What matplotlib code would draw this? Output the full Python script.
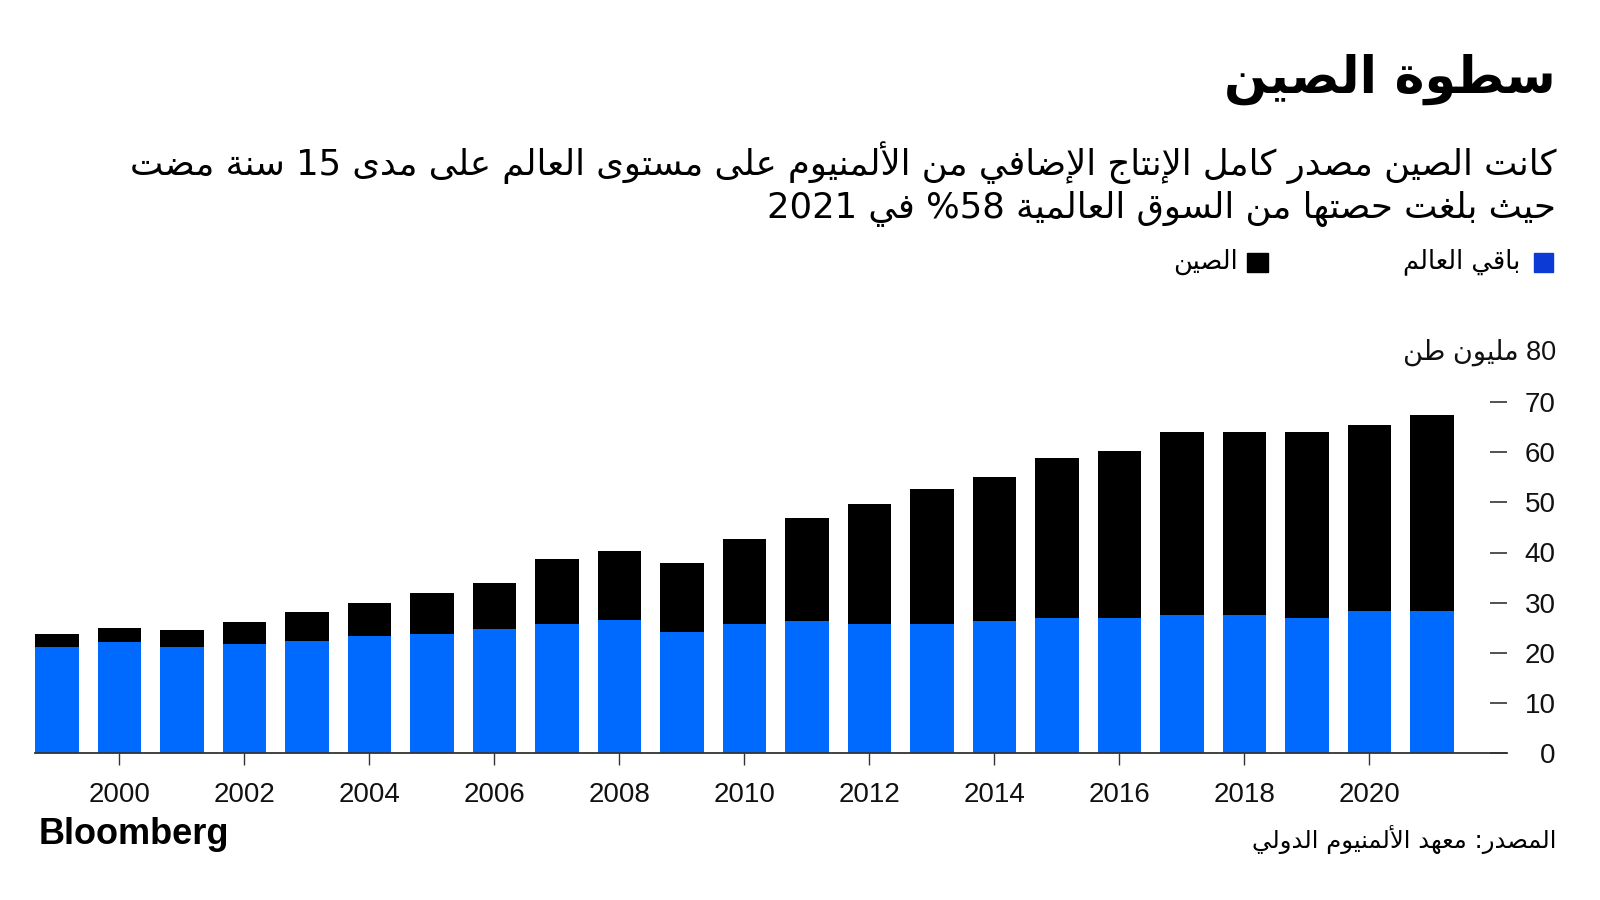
import re
import unicodedata

import matplotlib
matplotlib.use("Agg")
import matplotlib.pyplot as plt
from matplotlib.patches import Rectangle
from matplotlib.transforms import blended_transform_factory

# --- data ---
years = list(range(1999, 2022))
totals = [23.7, 24.9, 24.6, 26.1, 28.2, 30.0, 32.0, 33.9, 38.7, 40.3, 37.9, 42.6,
          46.8, 49.6, 52.6, 55.1, 58.8, 60.2, 64.0, 64.0, 64.0, 65.4, 67.5]
rest_of_world = [21.2, 22.1, 21.2, 21.8, 22.4, 23.4, 23.7, 24.7, 25.7, 26.6, 24.1, 25.7,
                 26.4, 25.7, 25.7, 26.4, 26.9, 26.9, 27.6, 27.6, 26.9, 28.4, 28.4]
china = [round(t - r, 1) for t, r in zip(totals, rest_of_world)]

x_ticks = list(range(2000, 2021, 2))
y_ticks = [0, 10, 20, 30, 40, 50, 60, 70]

title = "سطوة الصين"
subtitle_1 = "كانت الصين مصدر كامل الإنتاج الإضافي من الألمنيوم على مستوى العالم على مدى 15 سنة مضت"
subtitle_2 = "حيث بلغت حصتها من السوق العالمية 58% في 2021"
label_row = "باقي العالم"
label_china = "الصين"
unit_label = "80 مليون طن"
source = "المصدر: معهد الألمنيوم الدولي"

BLUE = "#006AFF"
LEGEND_BLUE = "#0B3BD4"


# --- minimal arabic shaping + visual reordering (matplotlib has no bidi) ---
def _build_forms():
    forms, ligs = {}, {}
    for cp in list(range(0xFE70, 0xFF00)) + list(range(0xFB50, 0xFE00)):
        d = unicodedata.decomposition(chr(cp))
        if not d.startswith("<"):
            continue
        tag, *codes = d.split()
        tag = tag.strip("<>")
        if tag not in ("isolated", "final", "initial", "medial"):
            continue
        chars = "".join(chr(int(c, 16)) for c in codes)
        if len(chars) == 1:
            forms.setdefault(chars, {}).setdefault(tag, chr(cp))
        elif len(chars) == 2 and 0xFEF5 <= cp <= 0xFEFC:
            ligs.setdefault(chars, {})[tag] = chr(cp)
    return forms, ligs


FORMS, LIGS = _build_forms()


def _joins_next(c):
    return c in FORMS and "initial" in FORMS[c]


def _joins_prev(c):
    return c in FORMS and "final" in FORMS[c]


def shape(text):
    out = []
    i, n = 0, len(text)
    while i < n:
        c = text[i]
        if c not in FORMS:
            out.append(c)
            i += 1
            continue
        prev_j = i > 0 and _joins_next(text[i - 1]) and _joins_prev(c)
        if i + 1 < n and (c + text[i + 1]) in LIGS:
            lig = LIGS[c + text[i + 1]]
            out.append(lig["final"] if prev_j else lig["isolated"])
            i += 2
            continue
        next_j = i + 1 < n and _joins_next(c) and _joins_prev(text[i + 1])
        f = FORMS[c]
        if prev_j and next_j:
            out.append(f.get("medial", c))
        elif prev_j:
            out.append(f.get("final", c))
        elif next_j:
            out.append(f.get("initial", c))
        else:
            out.append(f.get("isolated", c))
        i += 1
    rev = "".join(out)[::-1]
    # keep digit runs left-to-right
    return re.sub(r"[0-9]+", lambda m: m.group(0)[::-1], rev)


AR = ["DejaVu Sans"]
NUM = ["Liberation Sans", "DejaVu Sans"]

fig = plt.figure(figsize=(16, 9), dpi=100)
ax = fig.add_axes([35 / 1600, 1 - 753 / 900, (1507 - 35) / 1600, (753 - 352) / 900])

ax.bar(years, rest_of_world, width=0.7, color=BLUE, linewidth=0)
ax.bar(years, china, width=0.7, bottom=rest_of_world, color="black", linewidth=0)

ax.set_xlim(1998.65, 2022.2)
ax.set_ylim(0, 80)

for s in ("top", "left", "right"):
    ax.spines[s].set_visible(False)
ax.spines["bottom"].set_color("#333333")
ax.spines["bottom"].set_linewidth(1.3)

ax.set_xticks(x_ticks)
ax.set_xticklabels([str(y) for y in x_ticks], fontsize=20, family=NUM, color="#111111")
ax.tick_params(axis="x", direction="out", length=8.6, width=1, color="#333333", pad=12)

ax.yaxis.tick_right()
ax.set_yticks(y_ticks)
ax.set_yticklabels([str(v) for v in y_ticks], fontsize=20, family=NUM, color="#111111")
ax.tick_params(axis="y", direction="in", length=12, width=1.2, color="#333333", pad=35)
for lbl in ax.get_yticklabels():
    lbl.set_horizontalalignment("right")

ax.text(1556 / 1600, 80, shape(unit_label),
        transform=blended_transform_factory(fig.transFigure, ax.transData),
        ha="right", va="center", fontsize=19.5, family=NUM, color="#111111")

# --- titles ---
fig.text(1556 / 1600, 1 - 79 / 900, shape(title), ha="right", va="center",
         fontsize=36.5, fontweight="bold", family=AR)
fig.text(1556 / 1600, 1 - 163 / 900, shape(subtitle_1), ha="right", va="center",
         fontsize=25.5, family=AR)
fig.text(1556 / 1600, 1 - 209 / 900, shape(subtitle_2), ha="right", va="center",
         fontsize=25.5, family=AR)

# --- legend ---
fig.patches.append(Rectangle((1534 / 1600, 1 - 272 / 900), 19 / 1600, 19 / 900,
                             transform=fig.transFigure, color=LEGEND_BLUE))
fig.text(1520 / 1600, 1 - 262 / 900, shape(label_row), ha="right", va="center",
         fontsize=18.5, family=AR)
fig.patches.append(Rectangle((1247 / 1600, 1 - 272 / 900), 21 / 1600, 19 / 900,
                             transform=fig.transFigure, color="black"))
fig.text(1238 / 1600, 1 - 262 / 900, shape(label_china), ha="right", va="center",
         fontsize=18.5, family=AR)

# --- footer ---
fig.text(39 / 1600, 1 - 835 / 900, "Bloomberg", ha="left", va="center",
         fontsize=26, fontweight="bold", family=NUM)
fig.text(1556 / 1600, 1 - 839 / 900, shape(source), ha="right", va="center",
         fontsize=17.5, family=AR)

fig.savefig("out.png", dpi=100, facecolor="white")
